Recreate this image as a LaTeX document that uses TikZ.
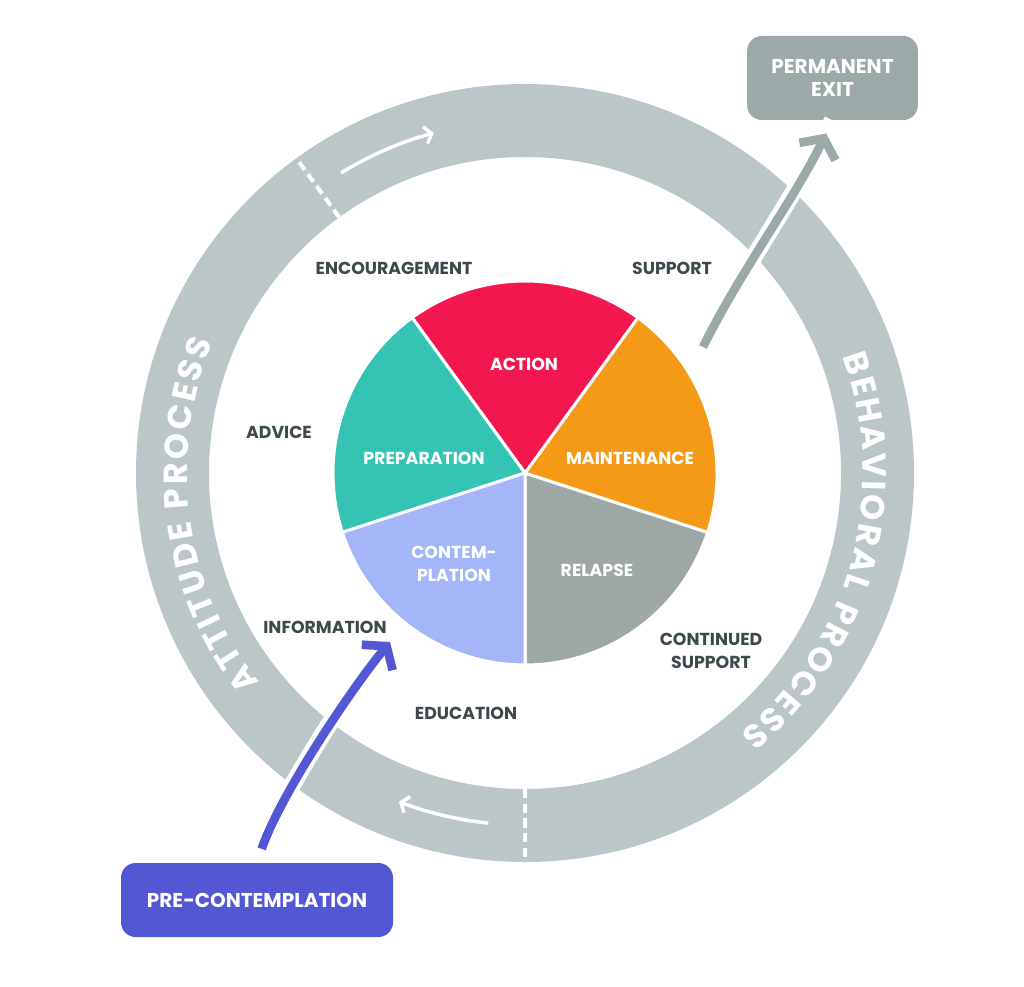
\documentclass[tikz,border=0pt]{standalone}
\usepackage{fontspec}
\setmainfont{Poppins}
\usetikzlibrary{arrows.meta}
\usetikzlibrary{calc}
\usetikzlibrary{decorations.text}

\definecolor{ringgray}{HTML}{BAC6C7}
\definecolor{exitgray}{HTML}{9BA9A8}
\definecolor{relapsegray}{HTML}{9DA8A6}
\definecolor{actionred}{HTML}{F2174F}
\definecolor{maintorange}{HTML}{F59A17}
\definecolor{prepteal}{HTML}{35C3B4}
\definecolor{contemblue}{HTML}{A4B6F7}
\definecolor{preconblue}{HTML}{5457D3}
\definecolor{labelgray}{HTML}{3C4A4B}

\newcommand{\ringfont}{\bfseries\fontsize{25}{25}\selectfont\kern2pt}

\tikzset{
  lbl/.style={font=\bfseries\fontsize{13}{17}\selectfont, text=labelgray, align=center, inner sep=0.75pt},
  pielbl/.style={font=\bfseries\fontsize{13}{17}\selectfont, text=white, align=center, inner sep=0.75pt},
  stagebox/.style={rounded corners=11pt, text=white, align=center, font=\bfseries\fontsize{15}{17}\selectfont},
  gapline/.style={white, line width=12.75pt},
  bigarrow/.style={line width=6.5pt, -{Straight Barb[length=11pt, width=30pt]}},
  ringarrow/.style={white, line width=2.6pt, -{Straight Barb[length=5pt, width=13pt]}},
  dashsep/.style={white, line width=3pt, dash pattern=on 7pt off 4pt},
}

\begin{document}
\begin{tikzpicture}[x=0.75pt,y=0.75pt,yscale=-1,xscale=1]
\useasboundingbox (0,0) rectangle (1024,987);

\coordinate (c) at (525,473);

%Shape: Ring
\fill [ringgray, even odd rule] (c) circle [radius=389] (c) circle [radius=316];
%Straight Lines: dashed separators
\draw [dashsep] ($(c)+(-126:316)$) -- ($(c)+(-126:389)$);
\draw [dashsep] ($(c)+(-270:316)$) -- ($(c)+(-270:389)$);
%Shape: Arc arrows in the ring
\draw [ringarrow] ($(c)+(-121.5:352)$) arc [start angle=-121.5, end angle=-105, radius=352];
\draw [ringarrow] ($(c)+(-264:352)$) arc [start angle=-264, end angle=-249, radius=352];

% Ring texts
\path [decorate, decoration={text along path, text align=center, text color=white,
  text={|\ringfont|ATTITUDE PROCESS}}] ($(c)+(122:338)$) arc [start angle=122, end angle=222, radius=338];
\path [decorate, decoration={text along path, text align=center, text color=white,
  text={|\ringfont|BEHAVIORAL PROCESS}}] ($(c)+(-35:338)$) arc [start angle=-35, end angle=65, radius=338];

%Shape: Pie
\foreach \s/\col in {90/relapsegray, 18/maintorange, -54/actionred, -126/prepteal, -198/contemblue}
  \filldraw [fill=\col, draw=white, line width=2.25pt, line join=round] (c) -- ++(\s:192) arc [start angle=\s, end angle=\s-72, radius=192] -- cycle;

% Text Node
\node [pielbl] (action) at (524,364) {ACTION};
\node [pielbl] (maint) at (630,458) {MAINTENANCE};
\node [pielbl] (prep) at (424,458) {PREPARATION};
\node [pielbl] (contem) at (454,564) {CONTEM-\\PLATION};
\node [pielbl] (relapse) at (597,570) {RELAPSE};

% Text Node
\node [lbl] (encour) at (394,268) {ENCOURAGEMENT};
\node [lbl] (support) at (672,268) {SUPPORT};
\node [lbl] (advice) at (279,432) {ADVICE};
\node [lbl] (info) at (325,627) {INFORMATION};
\node [lbl] (educ) at (466,713) {EDUCATION};
\node [lbl] (contsup) at (711,651) {CONTINUED\\SUPPORT};

% Boxes
\node [stagebox, fill=exitgray, minimum width=128pt, minimum height=63pt] (exit) at (832.5,78) {PERMANENT\\EXIT};
\node [stagebox, fill=preconblue, minimum width=204pt, minimum height=55.5pt] (precon) at (257,900) {PRE-CONTEMPLATION};

\coordinate (exittail) at (703,347);
\coordinate (infotip) at (390,642);

%Curve Lines: arrows with white gap
\draw [gapline] (exittail) .. controls (740,272) and (795,198) .. (exit.south);
\draw [bigarrow, exitgray, shorten >=11pt] (exittail) .. controls (740,272) and (795,198) .. (exit.south);
\draw [gapline, shorten <=11pt, shorten >=30pt] (precon.north) .. controls (280,795) and (352,688) .. (infotip);
\draw [bigarrow, preconblue, shorten <=11pt] (precon.north) .. controls (280,795) and (352,688) .. (infotip);

\end{tikzpicture}
\end{document}
